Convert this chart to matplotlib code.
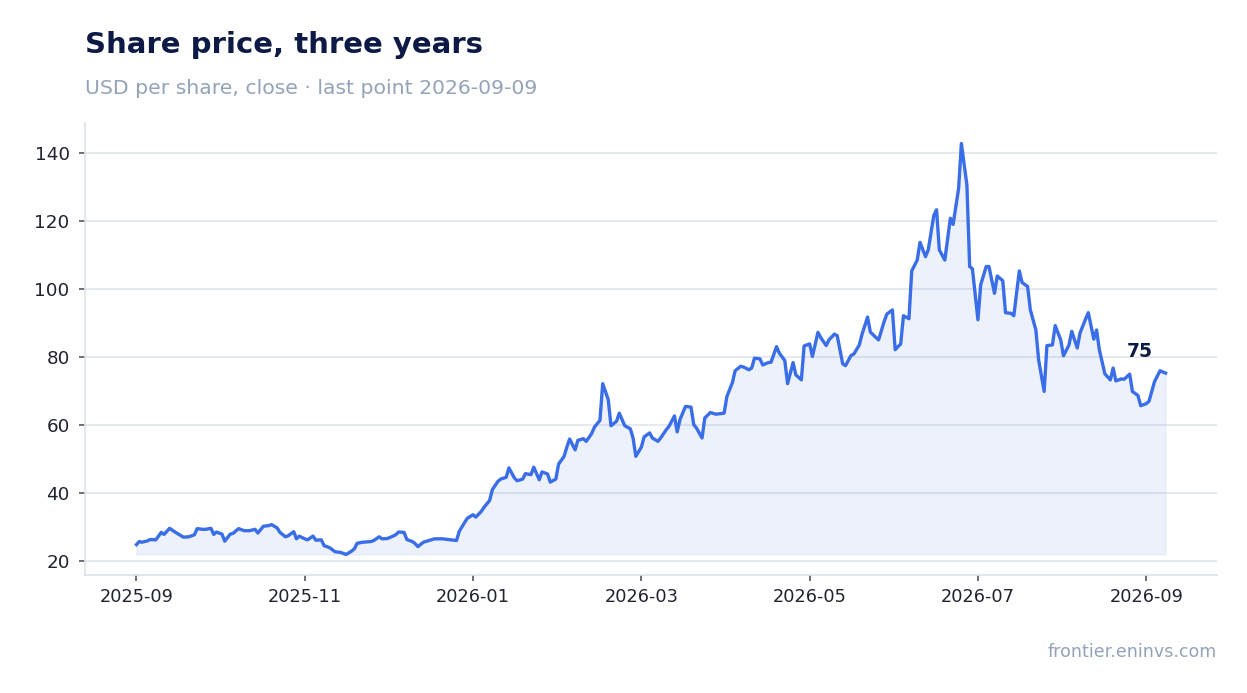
import matplotlib
matplotlib.use("Agg")
import matplotlib.pyplot as plt
import matplotlib.dates as mdates
import pandas as pd
import numpy as np

# ---- data ----
start_date = "2025-09-01"
day_offset = [
    0, 1, 2, 4, 5, 7, 9, 10, 12, 14, 16, 17, 19, 21, 22, 24, 25, 27, 28, 29,
    31, 32, 34, 35, 37, 39, 41, 43, 44, 46, 48, 49, 51, 52, 54, 55, 57, 58, 59, 61,
    62, 64, 65, 67, 68, 70, 72, 74, 76, 78, 79, 80, 82, 85, 86, 88, 89, 91, 93, 94,
    95, 97, 98, 100, 101, 102, 104, 106, 108, 111, 113, 116, 117, 119,
    120, 122, 123, 125, 126, 128, 129, 131, 132, 134, 135, 137, 138, 140, 141, 143, 144, 146, 147, 149,
    150, 152, 153, 155, 156, 157, 159, 160, 162, 163, 165, 166, 168, 169, 171, 172, 174, 175, 177, 179,
    180, 181,
    183, 184, 186, 187, 189, 190, 192, 193, 195, 196, 197, 199, 201, 202, 203, 205, 206, 208, 210, 211,
    213, 214, 216, 217, 219, 220, 222, 223, 224, 226, 227, 229, 230, 232, 233, 235, 236, 238, 239, 241,
    242, 244, 245, 247,
    248, 250, 251, 253, 254, 256, 257, 259, 260, 262, 263, 265, 266, 268, 269, 271, 272, 274, 275, 277,
    278, 280, 281, 283, 284, 286, 287, 289, 290, 291, 293, 295, 296, 298, 299, 301, 302, 303, 305,
    306, 308, 309, 311, 312, 314, 315, 317, 318, 320, 321, 323, 324, 326, 327, 329, 330, 332, 333, 335,
    336, 338, 339, 341, 342, 344, 345, 347, 348, 349, 351, 353, 354, 355, 357, 358, 360, 361, 363, 364,
    366, 367, 369, 371, 373,
]
price = [
    24.7, 25.6, 25.4, 25.8, 26.2, 26.1, 28.3, 27.7, 29.5, 28.4, 27.4, 26.9, 27.0, 27.6, 29.4, 29.2, 29.2, 29.5, 27.7, 28.4,
    27.8, 25.7, 27.8, 28.0, 29.4, 28.8, 28.8, 29.2, 28.1, 30.1, 30.3, 30.6, 29.6, 28.3, 27.0, 27.3, 28.5, 26.4, 27.2, 26.4,
    26.1, 27.2, 26.0, 26.1, 24.4, 23.8, 22.6, 22.4, 21.8, 22.8, 23.5, 25.1, 25.4, 25.6, 25.9, 27.0, 26.4, 26.5, 27.2, 27.6,
    28.4, 28.3, 26.2, 25.6, 25.0, 24.1, 25.4, 25.9, 26.4, 26.4, 26.2, 25.9, 28.6, 31.3,
    32.5, 33.5, 32.8, 34.5, 35.7, 37.7, 40.9, 43.3, 44.0, 44.5, 47.3, 44.3, 43.5, 44.0, 45.6, 45.3, 47.5, 43.8, 46.1, 45.5,
    43.1, 44.0, 48.4, 50.7, 53.4, 55.8, 52.6, 55.4, 55.9, 55.1, 57.4, 59.3, 61.3, 72.1, 67.4, 59.7, 61.0, 63.4, 59.7, 58.8,
    56.1, 50.7,
    53.4, 56.4, 57.6, 56.1, 55.1, 56.1, 58.5, 59.5, 62.6, 57.9, 61.5, 65.4, 65.2, 60.0, 59.0, 56.1, 62.0, 63.6, 63.1, 63.2,
    63.4, 68.3, 72.4, 75.9, 77.2, 77.0, 76.2, 76.7, 79.6, 79.4, 77.6, 78.3, 78.4, 83.0, 81.1, 78.9, 72.1, 78.3, 74.7, 73.2,
    83.2, 83.8, 80.1, 87.2,
    85.7, 83.3, 85.0, 86.7, 86.2, 77.9, 77.4, 80.4, 80.8, 83.5, 86.7, 91.7, 87.3, 85.7, 85.0, 90.4, 92.6, 93.8, 82.1, 83.8,
    92.1, 91.2, 105.3, 108.5, 113.7, 109.5, 111.5, 121.6, 123.3, 111.5, 108.5, 120.8, 119.0, 129.6, 142.8, 130.6, 106.6, 105.9, 90.9,
    101.2, 106.6, 106.6, 98.7, 103.8, 102.4, 93.0, 92.8, 92.1, 105.3, 101.9, 100.7, 93.8, 87.9, 79.1, 69.8, 83.3, 83.5, 89.2, 85.0,
    80.3, 83.5, 87.5, 82.6, 87.0, 91.1, 93.0, 85.2, 87.9, 82.1, 75.0, 73.2, 76.7, 72.9, 73.5, 73.4, 74.9, 69.8, 68.6, 65.6,
    66.2, 66.9, 72.7, 75.9, 75.2,
]
tick_step_days = 61
y_ticks = [20, 40, 60, 80, 100, 120, 140]

title = "Share price, three years"
subtitle = "USD per share, close \u00b7 last point 2026-09-09"
source = "frontier.eninvs.com"

# ---- styling ----
LINE = "#3a6ee8"
GRID = "#e3e7ef"
SPINE = "#dde2ea"
TITLE_C = "#0c1a45"
MUTED = "#94a3b8"
TEXT = "#1f2430"

plt.rcParams["font.family"] = ["DejaVu Sans"]

dates = pd.Timestamp(start_date) + pd.to_timedelta(day_offset, unit="D")
vals = np.array(price)

fig = plt.figure(figsize=(12.47, 6.93), dpi=100)
ax = fig.add_axes([85 / 1247, 118 / 693, (1217 - 85) / 1247, (575 - 123) / 693])

ax.fill_between(dates, vals, vals.min(), color=LINE, alpha=0.09, linewidth=0.8)
ax.plot(dates, vals, color=LINE, linewidth=2.4, solid_joinstyle="round")

ticks = [pd.Timestamp(start_date) + pd.Timedelta(days=tick_step_days * k) for k in range(7)]
ax.set_xticks(ticks)
ax.xaxis.set_major_formatter(mdates.DateFormatter("%Y-%m"))
ax.set_yticks(y_ticks)

ax.grid(axis="y", color=GRID, linewidth=1.3)
ax.grid(axis="x", visible=False)
ax.set_axisbelow(True)

for s in ["top", "right"]:
    ax.spines[s].set_visible(False)
for s in ["left", "bottom"]:
    ax.spines[s].set_color(SPINE)
    ax.spines[s].set_linewidth(1.2)

ax.tick_params(axis="y", labelsize=13.2, colors=TEXT, length=4, width=1.1, pad=7, color="#444a55")
ax.tick_params(axis="x", labelsize=12.8, colors=TEXT, length=4.5, width=1.1, pad=5, color="#444a55")

# last value label
ax.annotate(f"{vals[-1]:.0f}", xy=(dates[-1], vals[-1]), xytext=(-13, 12),
            textcoords="offset pixels", ha="right", va="bottom",
            fontsize=13.5, fontweight="bold", color=TITLE_C)

fig.text(85 / 1247, 1 - 53 / 693, title, fontsize=21, fontweight="bold",
         color=TITLE_C, ha="left", va="baseline")
fig.text(85 / 1247, 1 - 94 / 693, subtitle, fontsize=14.7, color=MUTED,
         ha="left", va="baseline")
fig.text(1217 / 1247, 1 - 657 / 693, source, fontsize=12.6, color=MUTED,
         ha="right", va="baseline")

fig.savefig("out.png", dpi=100)
